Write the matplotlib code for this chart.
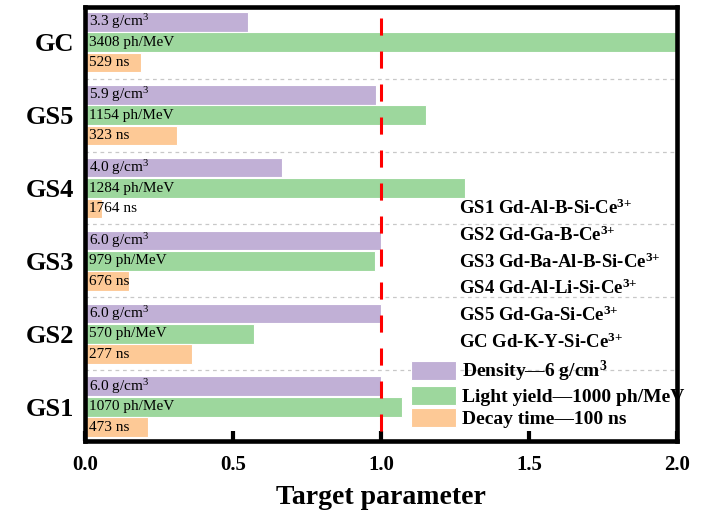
import numpy as np
import matplotlib
matplotlib.use("Agg")
import matplotlib.pyplot as plt

plt.rcParams['font.family'] = ['Liberation Serif', 'DejaVu Serif']
plt.rcParams['mathtext.fontset'] = 'custom'
plt.rcParams['mathtext.rm'] = 'Liberation Serif'
plt.rcParams['mathtext.it'] = 'Liberation Serif:italic'
plt.rcParams['mathtext.bf'] = 'Liberation Serif:bold'

# samples, bottom to top
samples = ["GS1", "GS2", "GS3", "GS4", "GS5", "GC"]
compositions = ["Gd-Al-B-Si", "Gd-Ga-B", "Gd-Ba-Al-B-Si", "Gd-Al-Li-Si", "Gd-Ga-Si", "Gd-K-Y-Si"]
density = [6.0, 6.0, 6.0, 4.0, 5.9, 3.3]          # g/cm3
light_yield = [1070, 570, 979, 1284, 1154, 3408]  # ph/MeV
decay_time = [473, 277, 676, 1764, 323, 529]      # ns

# targets used to normalise each parameter
density_ref = 6.0
ly_ref = 1000.0
decay_ref = 100.0

dens_n = np.array(density) / density_ref
ly_n = np.array(light_yield) / ly_ref
decay_n = decay_ref / np.array(decay_time)   # shorter decay is better

c_dens = "#c1b0d6"
c_ly = "#9dd79d"
c_decay = "#fdc996"

fig = plt.figure(figsize=(7.11, 5.15), dpi=100)
ax = fig.add_axes([0.1195, 0.1437, 0.8325, 0.8423])

y = np.arange(len(samples))
off = 0.28
h = 0.27
ax.barh(y + off, dens_n, height=h, color=c_dens, edgecolor="white", linewidth=0.8, label="Density\u20146 g/cm$^{\\mathbf{3}}$")
ax.barh(y, ly_n, height=h, color=c_ly, edgecolor="white", linewidth=0.8, label="Light yield\u20141000 ph/MeV")
ax.barh(y - off, decay_n, height=h, color=c_decay, edgecolor="white", linewidth=0.8, label="Decay time\u2014100 ns")

# value labels inside the bars
for i in range(len(samples)):
    ax.text(0.012, y[i] + off, "%.1f g/cm$^3$" % density[i], fontsize=11, ha="left", va="center")
    ax.text(0.012, y[i], "%d ph/MeV" % light_yield[i], fontsize=11, ha="left", va="center")
    ax.text(0.012, y[i] - off, "%d ns" % decay_time[i], fontsize=11, ha="left", va="center")

# group separators
for yy in y[:-1] + 0.5:
    ax.axhline(yy, color="#c8c8c8", linestyle=(0, (3, 3)), linewidth=0.9, zorder=0)

# target line
ax.plot([1.0, 1.0], [5.48, -0.47], color="red", linewidth=2.2,
        linestyle=(7.2, (5.6, 5.2)), zorder=5)

# composition list
for k in range(len(samples)):
    ax.text(1.264, 2.72 - k * 0.367,
            samples[k] + " " + compositions[k] + "-Ce$^{\\mathbf{3{+}}}$",
            fontsize=13.5, fontweight="bold", ha="left", va="center")

ax.legend(loc="upper left", bbox_to_anchor=(0.551, 0.19), frameon=False,
          prop={"weight": "bold", "size": 14}, borderpad=0, borderaxespad=0,
          handlelength=2.3, handleheight=1.15, labelspacing=0.1, handletextpad=0.3)

ax.set_xlim(0, 2.0)
ax.set_ylim(-0.47, 5.48)
ax.set_xticks([0.0, 0.5, 1.0, 1.5, 2.0])
ax.set_xticklabels(["0.0", "0.5", "1.0", "1.5", "2.0"], fontsize=15, fontweight="bold")
ax.set_yticks(y)
ax.set_yticklabels(samples, fontsize=19, fontweight="bold")
ax.tick_params(axis="x", direction="in", length=7, width=3, pad=10)
ax.tick_params(axis="y", length=0, pad=8)
ax.set_xlabel("Target parameter", fontsize=20, fontweight="bold", labelpad=7)

for s in ax.spines.values():
    s.set_linewidth(3.3)

fig.savefig("out.png", dpi=100)
